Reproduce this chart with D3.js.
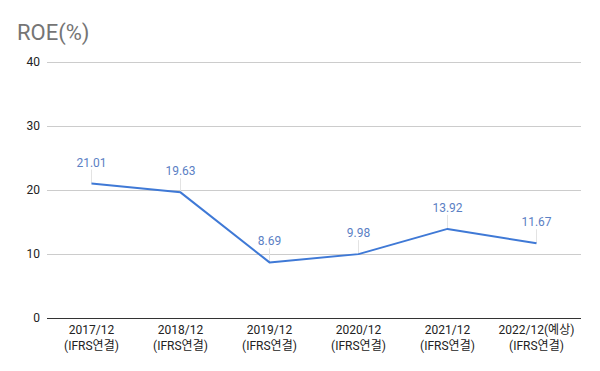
<!DOCTYPE html>
<html>
<head>
<meta charset="utf-8">
<script src="https://cdn.jsdelivr.net/npm/d3@7"></script>
<style>
    body { margin: 0; background: #fff; }
    svg { display: block; font-family: Roboto, "Noto Sans CJK KR", sans-serif; }
</style>
</head>
<body>
<div id="chart"></div>
<script>
    var years = ["2017/12", "2018/12", "2019/12", "2020/12", "2021/12", "2022/12(예상)"];
    var basis = ["(IFRS연결)", "(IFRS연결)", "(IFRS연결)", "(IFRS연결)", "(IFRS연결)", "(IFRS연결)"];
    var roe = [21.01, 19.63, 8.69, 9.98, 13.92, 11.67];
    var yTicks = [0, 10, 20, 30, 40];

    var width = 600, height = 371;
    // note: "top" is reserved on window, so use plot_* names
    var plot_left = 47, plot_right = 581, plot_top = 62, plot_bottom = 318;

    var svg = d3.select("#chart").append("svg")
        .attr("width", width)
        .attr("height", height);

    var x = d3.scaleBand().domain(d3.range(years.length)).range([plot_left, plot_right]);
    var y = d3.scaleLinear().domain([0, 40]).range([plot_bottom, plot_top]);

    // title
    svg.append("text")
        .attr("x", 17).attr("y", 40)
        .style("font-size", "22px")
        .style("fill", "#757575")
        .text("ROE(%)");

    // grid
    svg.append("g").selectAll("line")
        .data(yTicks.filter(function(d) { return d > 0; }))
        .enter().append("line")
        .attr("x1", plot_left).attr("x2", plot_right)
        .attr("y1", function(d) { return y(d) + 0.5; })
        .attr("y2", function(d) { return y(d) + 0.5; })
        .style("stroke", "#cccccc");

    svg.append("line")
        .attr("x1", plot_left).attr("x2", plot_right)
        .attr("y1", y(0) + 0.5).attr("y2", y(0) + 0.5)
        .style("stroke", "#333");

    svg.append("g").selectAll("text")
        .data(yTicks)
        .enter().append("text")
        .attr("x", 40)
        .attr("y", function(d) { return y(d) + 4; })
        .attr("text-anchor", "end")
        .style("font-size", "12px")
        .style("fill", "#222")
        .text(function(d) { return d; });

    // x labels
    var xl = svg.append("g").selectAll("text")
        .data(years)
        .enter().append("text")
        .attr("text-anchor", "middle")
        .style("font-size", "12px")
        .style("fill", "#222");
    xl.append("tspan")
        .attr("x", function(d, i) { return x(i) + x.bandwidth() / 2; })
        .attr("y", 334)
        .text(function(d) { return d; });
    xl.append("tspan")
        .attr("x", function(d, i) { return x(i) + x.bandwidth() / 2; })
        .attr("y", 350)
        .text(function(d, i) { return basis[i]; });

    // line
    var cx = function(d, i) { return x(i) + x.bandwidth() / 2; };
    var line = d3.line()
        .x(function(d, i) { return cx(d, i); })
        .y(function(d) { return y(d); });

    // leader lines
    svg.append("g").selectAll("line")
        .data(roe)
        .enter().append("line")
        .attr("x1", cx).attr("x2", cx)
        .attr("y1", function(d) { return y(d) - 14; })
        .attr("y2", function(d) { return y(d); })
        .style("stroke", "#e3e3e3");

    svg.append("path")
        .datum(roe)
        .attr("d", line)
        .style("fill", "none")
        .style("stroke", "#3f79d6")
        .style("stroke-width", 2)
        .style("stroke-linejoin", "round");

    svg.append("g").selectAll("text")
        .data(roe)
        .enter().append("text")
        .attr("x", cx)
        .attr("y", function(d) { return y(d) - 17; })
        .attr("text-anchor", "middle")
        .style("font-size", "12px")
        .style("fill", "#5b80c4")
        .text(function(d) { return d.toFixed(2); });
</script>
</body>
</html>
